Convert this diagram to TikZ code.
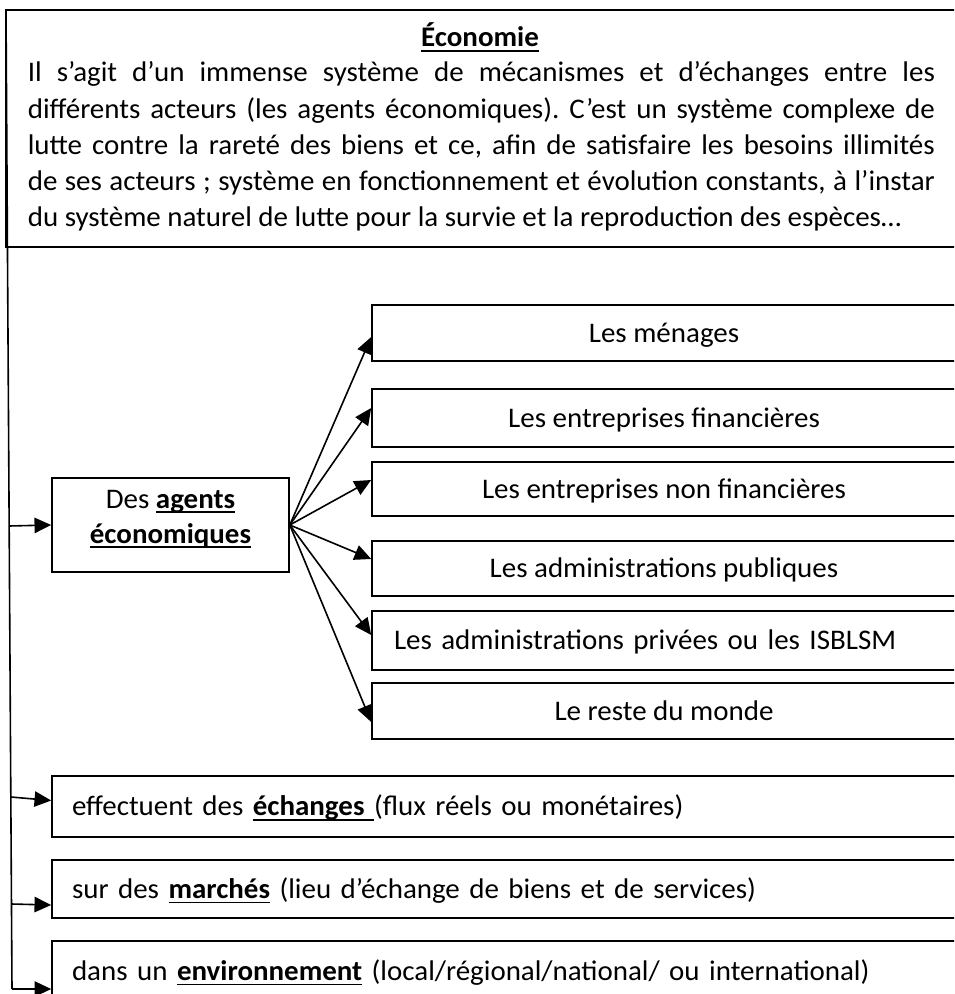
\documentclass[tikz,border=0pt]{standalone}
\usepackage{fontspec}
\setmainfont{Carlito}[FakeStretch=1.02]
\frenchspacing
\usetikzlibrary{arrows.meta,calc}
\newsavebox\ulbox
\newcommand\myul[1]{\sbox\ulbox{#1}\rlap{\rule[-3.6pt]{\wd\ulbox}{1.1pt}}\usebox\ulbox}
\begin{document}
\begin{tikzpicture}[x=0.75pt, y=-0.75pt, line width=1.2pt,
  font=\fontsize{21.3}{27.2}\selectfont,
  frame/.style={draw, inner sep=0pt},
  rbox/.style={draw, inner sep=0pt, minimum width=438pt, text height=14.5pt, text depth=0.5pt},
  lbox/.style={draw, inner xsep=15pt, inner ysep=0pt, minimum width=678pt, text width=648pt, align=left, text height=14.5pt, text depth=0.5pt},
  arr/.style={-{Triangle[length=12.5pt,width=11.5pt]}, line width=1.2pt},
  txt/.style={inner sep=0pt, anchor=base},
  hline/.style={inner sep=0pt, anchor=base west}]
\useasboundingbox (0,0) rectangle (954,994);
\clip (0,0) rectangle (954,994);

% header
\node[frame, minimum width=712.5pt, minimum height=177.75pt] (header) at (481,128.5) {};
\node[txt] (title) at (480,47) {\myul{\textbf{Économie}}};
\node[hline] (h1) at (27,82) {\makebox[680.25pt][s]{Il s’agit d’un immense système de mécanismes et d’échanges entre les}};
\node[hline] (h2) at (27,118.25) {\makebox[680.25pt][s]{différents acteurs (les agents économiques). C’est un système complexe de}};
\node[hline] (h3) at (27,154.5) {\makebox[680.25pt][s]{lutte contre la rareté des biens et ce, afin de satisfaire les besoins illimités}};
\node[hline] (h4) at (27,190.75) {\makebox[680.25pt][s]{de ses acteurs ; système en fonctionnement et évolution constants, à l’instar}};
\node[hline] (h5) at (27,227) {du système naturel de lutte pour la survie et la reproduction des espèces…};

% left spine
\coordinate (ltop) at (6,10);
\coordinate (lbot) at (12,989);
\draw (ltop) -- (lbot);
\coordinate (b0) at (9.2,526);
\coordinate (b1) at (10.9,797);
\coordinate (b2) at (11.5,904);

% agents box
\node[frame, minimum width=177.75pt, minimum height=70.5pt] (agents) at (170.5,525) {};
\node[txt] (ag1) at (170.5,508) {Des \myul{\textbf{agents}}};
\node[txt] (ag2) at (170.5,543) {\myul{\textbf{économiques}}};

% right boxes
\node[rbox, minimum height=42pt]    (m1) at (664,333)   {Les ménages};
\node[rbox, minimum height=43.5pt]  (m2) at (664,418)   {Les entreprises financières};
\node[rbox, minimum height=40.5pt]  (m3) at (664,489)   {Les entreprises non financières};
\node[rbox, minimum height=41.25pt] (m4) at (664,568.5) {Les administrations publiques};
\node[rbox, minimum height=44.25pt, inner xsep=16.5pt, text width=405pt, align=left] (m5) at (664,640.5) {Les administrations privées ou les ISBLSM};
\node[rbox, minimum height=42pt]    (m6) at (664,711)   {Le reste du monde};

% bottom boxes
\node[lbox, minimum height=45.75pt] (ea)  at (504,806.5) {effectuent des \myul{\textbf{échanges}\ }(flux réels ou monétaires)};
\node[lbox, minimum height=43.5pt]  (mk)  at (504,889)   {sur des \myul{\textbf{marchés}} (lieu d’échange de biens et de services)};
\node[lbox, minimum height=45pt]    (env) at (504,971)   {dans un \myul{\textbf{environnement}} (local/régional/national/ ou international)};

% arrows from spine
\draw[arr] (b0) -- (agents.west);
\draw[arr] (b1) -- ($(ea.west)+(0,-6)$);
\draw[arr] (b2) -- ($(mk.west)+(0,16)$);
\draw[arr] (lbot) -- (lbot -| env.west);

% fan
\draw[arr] (agents.east) -- ($(m1.west)+(0,4)$);
\draw[arr] (agents.east) -- ($(m2.west)+(0,-10)$);
\draw[arr] (agents.east) -- ($(m3.west)+(0,-9)$);
\draw[arr] (agents.east) -- ($(m4.west)+(0,-9.5)$);
\draw[arr] (agents.east) -- ($(m5.west)+(0,-5.5)$);
\draw[arr] (agents.east) -- ($(m6.west)+(0,11)$);
\end{tikzpicture}
\end{document}
